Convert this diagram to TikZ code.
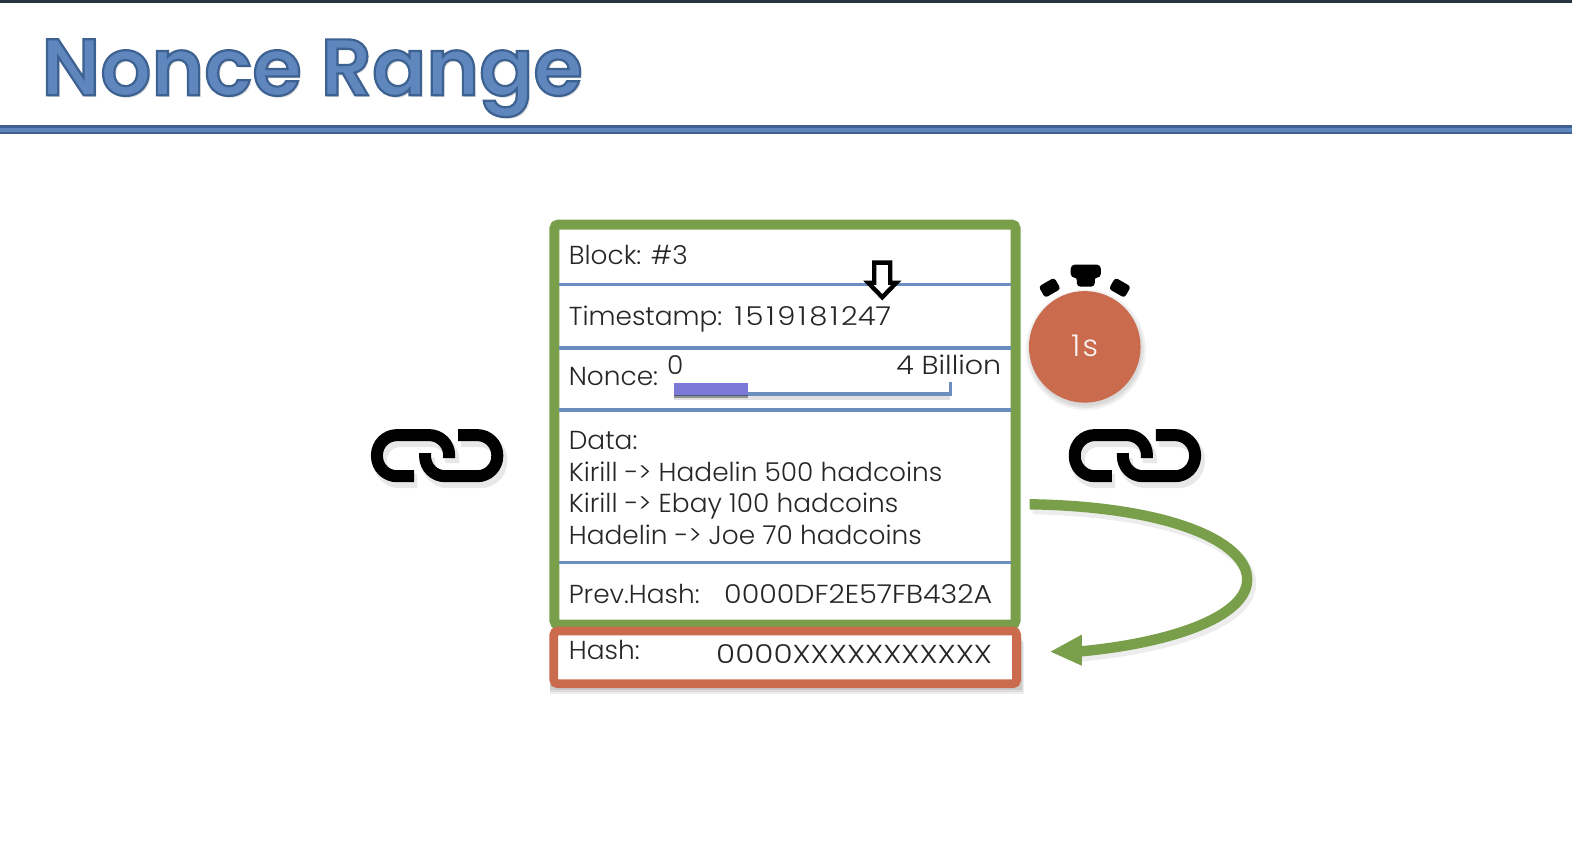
\documentclass[tikz,border=0pt]{standalone}
\usepackage{fontspec}
\setmainfont{Poppins Light}[FakeStretch=1.015]
\newfontfamily\titlefont{Poppins SemiBold}
\usetikzlibrary{arrows.meta,calc}
\definecolor{headblue}{HTML}{5F86BD}
\definecolor{headdark}{HTML}{3F6090}
\definecolor{divblue}{HTML}{6C8EBF}
\definecolor{boxgreen}{HTML}{7A9F4B}
\definecolor{boxred}{HTML}{CB6B4E}
\definecolor{barpurple}{HTML}{7B78D8}
\definecolor{topdark}{HTML}{2A3340}
\newcommand{\wideone}{\kern1.2pt 1\kern1.2pt}
\tikzset{
  x=0.50128pt,y=-0.50128pt,
  rowtext/.style={anchor=base west,inner sep=0pt,font=\fontsize{13}{13}\selectfont,text=black!85},
  rowvalue/.style={anchor=base east,inner sep=0pt,font=\fontsize{13}{13}\selectfont,text=black!85},
  divider/.style={draw=divblue,line width=1.7pt},
  linkstroke/.style={draw=black,line width=6pt,line join=round},
  linkshadow/.style={draw=black,line width=7pt,opacity=0.09,line join=round},
  timerknob/.style={fill=black,draw=black,line width=1pt,line join=round,rounded corners=1.5pt},
  sideknob/.style={fill=black,rounded corners=1.5pt,minimum width=9pt,minimum height=6.5pt,inner sep=0pt},
  pics/chainlink/.style={code={
    \draw[linkshadow,rounded corners=10pt] (46,46) -- (9,46) -- (9,5) -- (81,5) [rounded corners=5pt] -- (81,28);
    \draw[linkshadow,rounded corners=10pt] (90,5) -- (129,5) -- (129,46) -- (57,46) -- (57,23);
    \draw[linkstroke,rounded corners=10pt] (43,41) -- (6,41) -- (6,0) -- (78,0) -- (78,23);
    \draw[linkstroke,rounded corners=10pt] (87,0) -- (126,0) -- (126,41) -- (54,41) -- (54,18);
  }}
}
\begin{document}
\begin{tikzpicture}
\useasboundingbox (0,0) rectangle (1568,839.9);
\fill[white] (0,0) rectangle (1568,839.9);
% top strip and header
\fill[topdark] (0,0) rectangle (1568,3);
\fill[headdark] (0,125) rectangle (1568,134);
\fill[headblue] (0,127.5) rectangle (1568,131.5);
\node[anchor=base west,inner sep=0pt,text=black!14] at (43,97) {\fontsize{40}{40}\titlefont\selectfont Nonce Range};
\node (title) [anchor=base west,inner sep=0pt,text=headblue] at (41,95)
  {\special{pdf:code q 2 Tr 1.1 w 0.24 0.38 0.57 RG}\fontsize{40}{40}\titlefont\selectfont Nonce Range\special{pdf:code Q}};
% box shadows
\foreach \d in {2,4,6}{
  \fill[black,opacity=0.07] (549,634+\d) rectangle (1018+\d/2,686+\d);
}
% block
\node (blockbox) [draw=boxgreen,line width=5pt,fill=white,rounded corners=2pt,minimum width=230.6pt,minimum height=200pt,inner sep=0pt,anchor=north west] at (548,219) {};
\node (hashbox) [draw=boxred,line width=4.4pt,fill=white,rounded corners=2pt,minimum width=231.4pt,minimum height=26.4pt,inner sep=0pt,anchor=north west] at (548,625) {};
\draw[divider] (558,284) -- (1008,284);
\draw[divider] (558,347) -- (1008,347);
\draw[divider] (558,409) -- (1008,409);
\draw[divider] (558,561) -- (1008,561);
% row texts
\node (blocktxt) [rowtext] at (567,264) {Block: \#3};
\node (timetxt) [rowtext] at (567,325) {Timestamp: \scalebox{1.1}[1]{\wideone 5\wideone 9\wideone 8\wideone 247}};
\node (noncetxt) [rowtext] at (567,385) {Nonce:};
\node (zerotxt) [rowtext] at (665,374) {0};
\node (billtxt) [rowvalue] at (999,374) {\scalebox{1.08}[1]{4 Billion}};
\node (datatxt) [rowtext] at (567,448) {Data:};
\node (data1) [rowtext] at (567,480) {Kirill -> Hadelin 500 hadcoins};
\node (data2) [rowtext] at (567,511) {Kirill -> Ebay 100 hadcoins};
\node (data3) [rowtext] at (567,543) {Hadelin -> Joe 70 hadcoins};
\node (prevtxt) [rowtext] at (567,602) {Prev.Hash:};
\node (prevval) [rowvalue] at (990,602) {\scalebox{1.08}[1]{0000DF2E57FB432A}};
\node (hashtxt) [rowtext] at (567,658) {Hash:};
\node (hashval) [rowvalue] at (990,662) {\scalebox{1.175}[1]{0000XXXXXXXXXXX}};
% nonce range bar
\fill[black,opacity=0.12] (672,395) rectangle (948,399);
\draw[divblue,line width=1.6pt] (672,393) -- (948,393) -- (948,381);
\fill[black,opacity=0.35] (672,393) rectangle (746,397);
\fill[barpurple] (672,382) rectangle (746,394);
% pointer arrow
\draw[black,fill=white,line width=2.2pt,line join=miter] (872,262) -- (888,262) -- (888,282) -- (894,282) -- (880,296.5) -- (866,282) -- (872,282) -- cycle;
% stopwatch
\foreach \r in {56,58,60}{
  \fill[black,opacity=0.05] (1083,349) circle[radius=\r];
}
\node (watch) [circle,fill=boxred,minimum size=55.8pt,inner sep=0pt] at (1082,346) {};
\node (watchtxt) [anchor=base,inner sep=0pt,font=\fontsize{15}{15}\selectfont\addfontfeature{LetterSpace=8},text=white!92!boxred] at (1082,356) {1s};
\draw[timerknob] (1069,265) -- (1097,265) -- (1097,276) -- (1091,276) -- (1091,285) -- (1075,285) -- (1075,276) -- (1069,276) -- cycle;
\node (knobl) [sideknob,rotate=30] at (1047,287) {};
\node (knobr) [sideknob,rotate=-30] at (1117,287) {};
% chain links
\pic at (370,434) {chainlink};
\pic at (1066,434) {chainlink};
% curved arrow
\coordinate (cstart) at (1027,503);
\coordinate (cend) at (1075,650);
\draw[black,opacity=0.07,line width=6pt] ($(cstart)+(3,4)$) .. controls (1170,510) and (1247,545) .. (1247,582) .. controls (1247,620) and (1170,645) .. ($(cend)+(3,4)$);
\draw[boxgreen,line width=5.2pt] (cstart) .. controls (1165,505) and (1244,540) .. (1244,578) .. controls (1244,616) and (1165,642) .. (cend);
\fill[boxgreen] (1048,650) -- (1079,633) -- (1079,664) -- cycle;
\end{tikzpicture}
\end{document}
